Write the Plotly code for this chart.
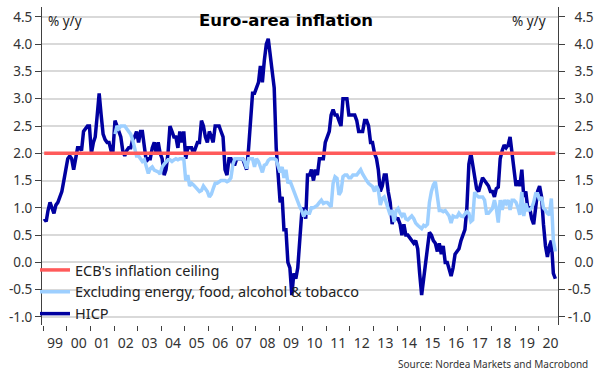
import pandas as pd
import plotly.graph_objects as go

# ---------------- data (monthly, % y/y) ----------------
hicp_start = "1999-01-01"
hicp = [
    # 1999
    0.8, 0.75, 0.95, 1.1, 1.0, 0.9, 1.05, 1.1, 1.2, 1.3, 1.5, 1.7,
    # 2000
    1.9, 1.95, 1.9, 1.7, 1.9, 2.1, 2.1, 2.05, 2.4, 2.45, 2.5, 2.5,
    # 2001
    2.0, 2.2, 2.3, 2.7, 3.1, 2.7, 2.35, 2.25, 2.2, 2.2, 2.05, 2.05,
    # 2002
    2.6, 2.5, 2.4, 2.3, 2.05, 1.95, 2.05, 2.1, 2.1, 2.25, 2.3, 2.4,
    # 2003
    2.2, 2.4, 2.4, 2.1, 1.85, 1.9, 1.9, 2.1, 2.2, 2.0, 2.2, 2.0,
    # 2004
    1.9, 1.6, 1.7, 2.0, 2.5, 2.4, 2.3, 2.3, 2.1, 2.4, 2.2, 2.4,
    # 2005
    1.9, 2.1, 2.1, 2.1, 2.0, 2.1, 2.2, 2.2, 2.6, 2.5, 2.3, 2.2,
    # 2006
    2.4, 2.3, 2.2, 2.5, 2.5, 2.5, 2.4, 2.3, 1.7, 1.6, 1.9, 1.9,
    # 2007
    1.8, 1.8, 1.9, 1.9, 1.9, 1.9, 1.8, 1.7, 2.1, 2.6, 3.1, 3.1,
    # 2008
    3.2, 3.3, 3.6, 3.3, 3.7, 4.0, 4.1, 3.8, 3.6, 3.2, 2.1, 1.6,
    # 2009
    1.1, 1.2, 0.6, 0.6, 0.0, -0.1, -0.6, -0.2, -0.3, -0.1, 0.5, 0.9,
    # 2010
    1.0, 0.8, 1.6, 1.6, 1.7, 1.5, 1.7, 1.6, 1.9, 1.9, 1.9, 2.2,
    # 2011
    2.3, 2.4, 2.7, 2.8, 2.7, 2.7, 2.6, 2.5, 3.0, 3.0, 3.0, 2.7,
    # 2012
    2.7, 2.7, 2.7, 2.6, 2.4, 2.4, 2.4, 2.6, 2.6, 2.5, 2.2, 2.2,
    # 2013
    2.0, 1.9, 1.7, 1.3, 1.4, 1.6, 1.6, 1.3, 1.1, 0.7, 0.9, 0.8,
    # 2014
    0.8, 0.7, 0.5, 0.7, 0.5, 0.5, 0.45, 0.4, 0.35, 0.4, 0.25, -0.2,
    # 2015
    -0.6, -0.3, 0.0, 0.3, 0.55, 0.5, 0.4, 0.35, 0.2, 0.35, 0.15, 0.3,
    # 2016
    0.0, 0.0, -0.1, -0.25, -0.1, 0.15, 0.2, 0.25, 0.4, 0.5, 0.6, 1.0,
    # 2017
    1.8, 2.0, 1.8, 1.5, 1.35, 1.3, 1.45, 1.55, 1.5, 1.45, 1.4, 1.3,
    # 2018
    1.3, 1.2, 1.35, 1.38, 1.9, 2.05, 2.15, 2.1, 2.15, 2.3, 1.95, 1.6,
    # 2019
    1.4, 1.5, 1.4, 1.7, 1.2, 1.3, 1.0, 1.0, 0.8, 0.7, 1.0, 1.3,
    # 2020
    1.4, 1.2, 0.7, 0.3, 0.1, 0.3, 0.4, -0.2, -0.3,
]

core_start = "2002-01-01"
core = [
    # 2002
    2.35, 2.5, 2.45, 2.5, 2.5, 2.5, 2.45, 2.4, 2.35, 2.25, 2.1, 1.95,
    # 2003
    1.95, 1.9, 1.85, 1.88, 1.78, 1.63, 1.72, 1.75, 1.69, 1.68, 1.66, 1.62,
    # 2004
    1.75, 1.8, 1.85, 1.88, 1.88, 1.85, 1.88, 1.9, 1.88, 1.9, 1.9, 1.9,
    # 2005
    1.5, 1.6, 1.4, 1.45, 1.42, 1.38, 1.32, 1.3, 1.32, 1.4, 1.35, 1.3,
    # 2006
    1.2, 1.25, 1.35, 1.45, 1.45, 1.48, 1.5, 1.5, 1.5, 1.48, 1.5, 1.55,
    # 2007
    1.8, 1.9, 1.9, 1.9, 1.9, 1.9, 1.85, 1.72, 1.9, 1.9, 1.9, 1.75,
    # 2008
    1.9, 1.85, 1.75, 1.65, 1.78, 1.8, 1.87, 1.9, 1.9, 1.9, 1.88, 1.78,
    # 2009
    1.65, 1.75, 1.55, 1.7, 1.45, 1.5, 1.4, 1.3, 1.24, 1.1, 1.02, 0.95,
    # 2010
    0.84, 0.93, 0.9, 0.9, 1.0, 1.0, 1.02, 1.05, 1.1, 1.14, 1.08, 1.1,
    # 2011
    1.1, 1.05, 1.02, 1.45, 1.57, 1.54, 1.24, 1.3, 1.57, 1.6, 1.6, 1.55,
    # 2012
    1.55, 1.6, 1.6, 1.6, 1.65, 1.7, 1.62, 1.55, 1.5, 1.45, 1.42, 1.39,
    # 2013
    1.3, 1.4, 1.33, 1.05, 1.17, 1.2, 1.1, 1.0, 0.87, 0.96, 0.74, 0.95,
    # 2014
    0.99, 0.9, 0.85, 0.9, 0.8, 0.78, 0.82, 0.85, 0.8, 0.72, 0.68, 0.65,
    # 2015
    0.62, 0.68, 0.66, 0.7, 1.1, 1.3, 1.42, 1.48, 1.15, 0.95, 0.95, 0.93,
    # 2016
    0.95, 0.9, 0.85, 0.72, 0.85, 0.83, 0.83, 0.9, 0.85, 0.84, 0.9, 0.93,
    # 2017
    0.9, 0.75, 0.78, 1.29, 1.23, 1.2, 1.2, 1.2, 1.14, 0.9, 0.9, 0.95,
    # 2018
    0.99, 1.14, 1.0, 0.73, 1.14, 0.96, 1.14, 1.08, 1.14, 0.96, 1.14, 1.14,
    # 2019
    1.1, 1.0, 0.87, 1.29, 0.85, 1.08, 0.96, 0.96, 1.0, 1.1, 1.26, 1.26,
    # 2020
    1.14, 1.2, 1.0, 0.96, 0.9, 0.87, 1.17, 0.4, 0.2,
]

ecb_ceiling = 2.0

names = ["ECB's inflation ceiling",
         "Excluding energy, food, alcohol & tobacco",
         "HICP"]
y_ticks = [-1.0, -0.5, 0.0, 0.5, 1.0, 1.5, 2.0, 2.5, 3.0, 3.5, 4.0, 4.5]

# ---------------- build ----------------
hicp_dates = pd.date_range(hicp_start, periods=len(hicp), freq="MS") + pd.Timedelta(days=14)
core_dates = pd.date_range(core_start, periods=len(core), freq="MS") + pd.Timedelta(days=14)
ecb_vals = [ecb_ceiling] * len(hicp)

FONT = "Noto Sans"
C_HICP = "#0000a0"
C_CORE = "#9dcfff"
C_ECB = "#ff5a5a"
AX = "#404040"

fig = go.Figure()
fig.add_trace(go.Scatter(x=hicp_dates, y=hicp, mode="lines", name=names[2],
                         line=dict(color=C_HICP, width=3.5)))
fig.add_trace(go.Scatter(x=core_dates, y=core, mode="lines", name=names[1],
                         line=dict(color=C_CORE, width=3.5)))
fig.add_trace(go.Scatter(x=hicp_dates, y=ecb_vals, mode="lines", name=names[0],
                         line=dict(color=C_ECB, width=3.5), yaxis="y2"))

yr = [-1.148, 4.682]
L, R, T, B = 42, 44, 7, 56
W, H = 602, 381
pw = W - L - R
ph = H - T - B

def px(xp):
    return (xp - L) / pw

def py(yp):
    return (H - B - yp) / ph

fig.update_layout(
    width=W, height=H,
    margin=dict(l=L, r=R, t=T, b=B, pad=0, autoexpand=False),
    paper_bgcolor="white", plot_bgcolor="white",
    font=dict(family=FONT, size=13.5, color="#333333"),
    showlegend=True,
    legend=dict(x=px(35), y=py(254), xanchor="left", yanchor="top",
                traceorder="reversed", bgcolor="rgba(0,0,0,0)",
                font=dict(family=FONT, size=14.5, color="#222222"),
                itemclick=False, itemdoubleclick=False),
    title=dict(text="<b>Euro-area inflation</b>", x=286 / W, y=1 - 20 / H,
               xanchor="center", yanchor="middle",
               font=dict(family="DejaVu Sans", size=16.5, color="#000000")),
    xaxis=dict(type="date", range=["1998-12-12", "2020-10-26"], automargin=False,
               tick0="1999-01-01", dtick="M12", tickformat="%y",
               ticklabelmode="period", ticks="outside", ticklen=5,
               tickcolor=AX, tickwidth=1, showgrid=False, showline=False,
               zeroline=False,
               tickfont=dict(family=FONT, size=14, color="#333333")),
    yaxis=dict(range=yr, tickmode="array", tickvals=y_ticks, automargin=False,
               ticktext=[f"{v:.1f}" for v in y_ticks],
               showgrid=True, gridcolor="#d9d9d9", gridwidth=1.5,
               zeroline=False, showline=True, linecolor=AX, linewidth=1,
               ticks="outside", ticklen=6, tickcolor=AX, tickwidth=1,
               tickfont=dict(family=FONT, size=13.5, color="#333333")),
    yaxis2=dict(range=yr, overlaying="y", side="right", matches="y", automargin=False,
                tickmode="array", tickvals=y_ticks,
                ticktext=[(f"{v:.1f}" if v < 0 else "\u2002" + f"{v:.1f}") for v in y_ticks],
                showgrid=False, zeroline=False, showline=True, linecolor=AX,
                linewidth=1, ticks="outside", ticklen=6, tickcolor=AX, tickwidth=1,
                tickfont=dict(family=FONT, size=13.5, color="#333333")),
)

fig.add_annotation(text="% y/y", xref="paper", yref="paper", x=px(46), y=py(21),
                   xanchor="left", yanchor="middle", showarrow=False,
                   font=dict(family=FONT, size=13.5, color="#222222"))
fig.add_annotation(text="% y/y", xref="paper", yref="paper", x=px(548), y=py(21),
                   xanchor="right", yanchor="middle", showarrow=False,
                   font=dict(family=FONT, size=13.5, color="#222222"))
fig.add_annotation(text="Source: Nordea Markets and Macrobond", xref="paper", yref="paper",
                   x=px(590), y=py(364), xanchor="right", yanchor="middle",
                   showarrow=False, font=dict(family=FONT, size=10, color="#333333"))

fig.write_html("out.html",
               config={"displayModeBar": False},
               post_script="document.body.style.margin='0';document.body.style.padding='0';")
